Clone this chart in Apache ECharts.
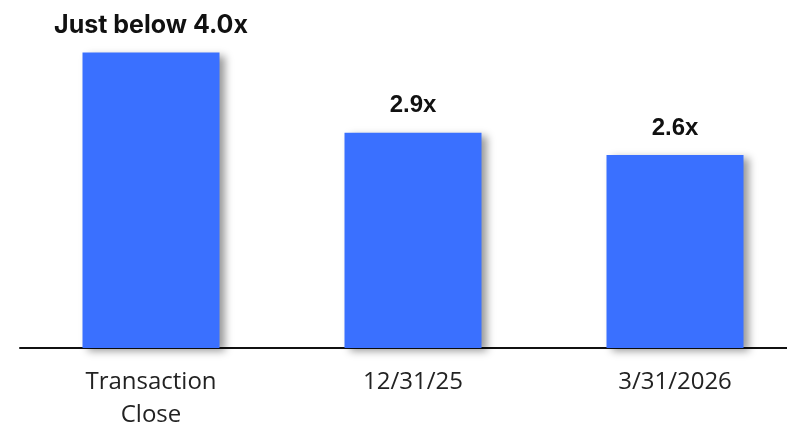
<!DOCTYPE html>
<html><head><meta charset="utf-8">
<script src="https://cdn.jsdelivr.net/npm/echarts@6/dist/echarts.min.js"></script>
<style>html,body{margin:0;padding:0;background:#fff}#c{width:787px;height:422px}</style>
</head><body><div id="c"></div>
<script>
var categories = ['Transaction\nClose', '12/31/25', '3/31/2026'];
var values = [3.98, 2.9, 2.6];
var valueLabels = ['Just below 4.0x', '2.9x', '2.6x'];

var chart = echarts.init(document.getElementById('c'));
chart.setOption({
  animation: false,
  grid: {left: 20, width: 786, top: 14, bottom: 74, outerBoundsMode: 'none', containLabel: false},
  xAxis: {
    type: 'category', data: categories,
    axisLine: {lineStyle: {color: '#111', width: 2}},
    axisTick: {show: false},
    axisLabel: {fontSize: 24, color: '#222', fontFamily: 'Open Sans', lineHeight: 33, margin: 18}
  },
  yAxis: {type: 'value', min: 0, max: 4.5, show: false, splitLine: {show: false}},
  series: [{
    type: 'bar', barWidth: 137,
    data: values.map(function (v, i) {
      var d = {value: v, label: {formatter: valueLabels[i]}};
      if (i === 0) { d.label.fontFamily = 'Inter'; d.label.fontSize = 25; d.label.distance = 15; }
      return d;
    }),
    itemStyle: {color: '#3A70FF', shadowBlur: 8, shadowOffsetX: 5, shadowOffsetY: 3, shadowColor: 'rgba(0,0,0,0.4)'},
    label: {show: true, position: 'top', distance: 15, fontSize: 24, fontWeight: 'bold', color: '#111', fontFamily: 'Liberation Sans'}
  }]
});
</script></body></html>
